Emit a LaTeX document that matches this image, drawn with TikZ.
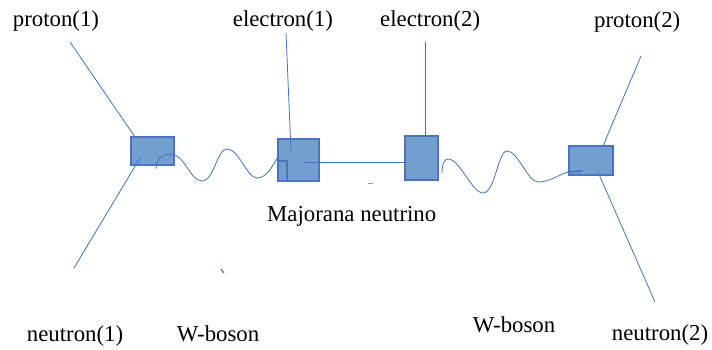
\documentclass[tikz,border=0pt]{standalone}
\usepackage{fontspec}
\setmainfont{Liberation Serif}
\definecolor{boxfill}{RGB}{114,158,208}
\definecolor{boxdraw}{RGB}{74,116,190}
\definecolor{linec}{RGB}{68,114,196}
\tikzset{
  particle/.style={draw=boxdraw, fill=boxfill, line width=1.1pt, inner sep=0pt, minimum width=#1},
  conn/.style={draw=linec, line width=0.8pt},
  lbl/.style={anchor=base west, inner sep=0pt, font=\fontsize{22.8}{27}\selectfont}
}
\begin{document}
\begin{tikzpicture}[x=1pt,y=-1pt]
\useasboundingbox (0,0) rectangle (712,349);
% boxes
\node[particle=43pt, minimum height=28pt] (b1) at (152.5,151) {};
\node[particle=41pt, minimum height=42pt] (b2) at (298.5,160) {};
\node[draw=boxdraw, line width=1.1pt, inner sep=0pt, minimum width=9pt, minimum height=20pt] (b2s) at (282.5,171) {};
\node[particle=33pt, minimum height=44pt] (b3) at (421.5,158) {};
\node[particle=44pt, minimum height=29pt] (b4) at (591,160.5) {};
% labels
\node[lbl] (p1) at (12.7,26.7) {proton(1)};
\node[lbl] (e1) at (232.7,26.7) {electron(1)};
\node[lbl] (e2) at (380,26.7) {electron(2)};
\node[lbl] (p2) at (594,27) {proton(2)};
\node[lbl] (mn) at (267,221) {Majorana neutrino};
\node[lbl] (n1) at (26.7,341) {neutron(1)};
\node[lbl] (w1) at (176.7,341) {W-boson};
\node[lbl] (w2) at (472.7,332) {W-boson};
\node[lbl] (n2) at (611.7,340) {neutron(2)};
% coordinates
\coordinate (p1s) at (70,42);
\coordinate (p1e) at (135,137);
\coordinate (n1s) at (140,158);
\coordinate (n1e) at (74,268);
\coordinate (e1s) at (286,33);
\coordinate (e1e) at (291,151);
\coordinate (m1) at (304,162);
\coordinate (m2) at (405,162);
\coordinate (e2s) at (425,42);
\coordinate (e2e) at (425,136);
\coordinate (p2s) at (641,56);
\coordinate (p2e) at (603,146);
\coordinate (n2s) at (598,172);
\coordinate (n2e) at (655,302);
\coordinate (w1a) at (156,169);
\coordinate (w1b) at (278,157);
\coordinate (w2a) at (442,173);
\coordinate (w2b) at (568,172);
\coordinate (w2c) at (582,171);
\coordinate (d1a) at (221,269);
\coordinate (d1b) at (224,273);
\coordinate (d2a) at (368,183.5);
\coordinate (d2b) at (373,183.5);
% connectors
\draw[conn] (p1s) -- (p1e);
\draw[conn] (n1s) -- (n1e);
\draw[conn] (e1s) -- (e1e);
\draw[conn] (m1) -- (m2);
\draw[conn] (e2s) -- (e2e);
\draw[conn] (p2s) -- (p2e);
\draw[conn] (n2s) -- (n2e);
% W-boson waves
\draw[conn] (w1a) .. controls (156,158) and (163,154) .. (170,154)
  .. controls (185,154) and (190,181) .. (202,181)
  .. controls (214,181) and (217,149) .. (227,149)
  .. controls (239,149) and (247,178) .. (257,178)
  .. controls (267,178) and (273,165) .. (w1b);
\draw[conn] (w2a) .. controls (442,163) and (445,159) .. (448,159)
  .. controls (460,159) and (472,193) .. (483,193)
  .. controls (495,193) and (498,151) .. (507,151)
  .. controls (518,151) and (528,182) .. (538,182)
  .. controls (550,182) and (560,174) .. (w2b);
\draw[draw=linec, line width=1.8pt] (w2b) -- (w2c);
% stray marks
\draw[draw=linec, line width=1.2pt] (d1a) -- (d1b);
\draw[draw=boxfill, line width=1.5pt] (d2a) -- (d2b);
\end{tikzpicture}
\end{document}
